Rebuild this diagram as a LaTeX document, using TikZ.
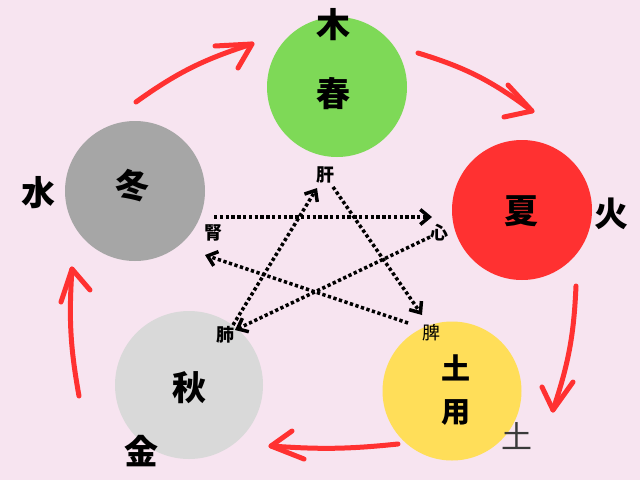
\documentclass[tikz,border=0pt]{standalone}
\usepackage{fontspec}
\newfontfamily\jp{Noto Sans CJK JP}
\usetikzlibrary{arrows.meta}
\definecolor{bg}{HTML}{F7E4F0}
\definecolor{spring}{HTML}{7ED957}
\definecolor{summer}{HTML}{FF3131}
\definecolor{winter}{HTML}{A6A6A6}
\definecolor{autumn}{HTML}{D9D9D9}
\definecolor{doyou}{HTML}{FFDE59}
\definecolor{redarrow}{HTML}{FF3131}
\definecolor{thinink}{HTML}{3A3A3A}
\begin{document}
\begin{tikzpicture}[x=1pt,y=-1pt,
  season/.style={circle, inner sep=0pt, minimum size=#1},
  big/.style={inner sep=0pt, text height=29.9pt, text depth=4.1pt,
    font=\jp\bfseries\fontsize{34}{34}\selectfont},
  mid/.style={inner sep=0pt, text height=25.5pt, text depth=3.5pt,
    font=\jp\bfseries\fontsize{29}{29}\selectfont},
  organ/.style={inner sep=0pt, text height=15.8pt, text depth=2.2pt,
    font=\jp\bfseries\fontsize{18}{18}\selectfont},
  organthin/.style={inner sep=0pt, text height=15.8pt, text depth=2.2pt,
    font=\jp\fontsize{18}{18}\selectfont},
  thinbig/.style={inner sep=0pt, text height=27.3pt, text depth=3.7pt,
    font=\jp\fontsize{31}{31}\selectfont, text=thinink},
  cyc/.style={draw=redarrow, line width=5pt, line cap=round, line join=round},
  dotarrow/.style={line width=3.5pt, dash pattern=on 3.3pt off 2.5pt,
    -{Straight Barb[length=9pt,width=15pt,line width=3.5pt]}},
]
\fill[bg] (0,0) rectangle (640,480);
\useasboundingbox (0,0) rectangle (640,480);

% season circles
\node[season=140pt, fill=spring] (spring) at (337,87) {};
\node[season=140pt, fill=summer] (summer) at (522,210) {};
\node[season=140pt, fill=winter] (winter) at (135,191) {};
\node[season=148pt, fill=autumn] (autumn) at (189,385) {};
\node[season=139pt, fill=doyou] (doyou) at (452,391) {};

% season labels
\node[big] (tspring) at (333,94) {春};
\node[big] (tsummer) at (521,211) {夏};
\node[big] (twinter) at (132,186) {冬};
\node[big] (tautumn) at (189,388) {秋};
\node[mid] (tdo) at (456,368) {土};
\node[mid] (tyou) at (456,411) {用};

% element labels
\node[big] (ewood) at (333,25) {木};
\node[big] (efire) at (611,214) {火};
\node[big] (ewater) at (38,193) {水};
\node[big] (emetal) at (141,452) {金};
\node[thinbig] (eearth) at (517,437) {土};

% organ labels
\node[organ] (liver) at (325,175) {肝};
\node[organ] (heart) at (439,233) {心};
\node[organthin] (spleen) at (431,333) {脾};
\node[organ] (lung) at (225,335) {肺};
\node[organ] (kidney) at (213,233) {腎};

% red cycle arrows
\coordinate (a1s) at (136,102); \coordinate (a1t) at (252,44);
\coordinate (a1p) at (215,46);  \coordinate (a1q) at (238,68);
\draw[cyc] (a1s) to[bend left=9] (a1t);
\draw[cyc] (a1p) -- (a1t) -- (a1q);

\coordinate (a2s) at (418,53); \coordinate (a2t) at (532,111);
\coordinate (a2p) at (508,85); \coordinate (a2q) at (504,117);
\draw[cyc] (a2s) to[bend left=10] (a2t);
\draw[cyc] (a2p) -- (a2t) -- (a2q);

\coordinate (a3s) at (576,286); \coordinate (a3t) at (553,410);
\coordinate (a3p) at (542,387); \coordinate (a3q) at (573,382);
\draw[cyc] (a3s) to[bend left=8] (a3t);
\draw[cyc] (a3p) -- (a3t) -- (a3q);

\coordinate (a4s) at (398,444); \coordinate (a4t) at (271,446);
\coordinate (a4p) at (292,431); \coordinate (a4q) at (304,459);
\draw[cyc] (a4s) to[bend left=5] (a4t);
\draw[cyc] (a4p) -- (a4t) -- (a4q);

\coordinate (a5s) at (79,396); \coordinate (a5t) at (72,269);
\coordinate (a5p) at (61,302); \coordinate (a5q) at (90,290);
\draw[cyc] (a5s) to[bend left=7] (a5t);
\draw[cyc] (a5p) -- (a5t) -- (a5q);

% dotted control arrows
\coordinate (d1s) at (214,217); \coordinate (d1t) at (432,217);
\coordinate (d2s) at (430,237); \coordinate (d2t) at (235,330);
\coordinate (d3s) at (233,325); \coordinate (d3t) at (317,188);
\coordinate (d4s) at (333,187); \coordinate (d4t) at (422,315);
\coordinate (d5s) at (408,323); \coordinate (d5t) at (205,255);
\draw[dotarrow] (d1s) -- (d1t);
\draw[dotarrow] (d2s) -- (d2t);
\draw[dotarrow] (d3s) -- (d3t);
\draw[dotarrow] (d4s) -- (d4t);
\draw[dotarrow] (d5s) -- (d5t);
\end{tikzpicture}
\end{document}
